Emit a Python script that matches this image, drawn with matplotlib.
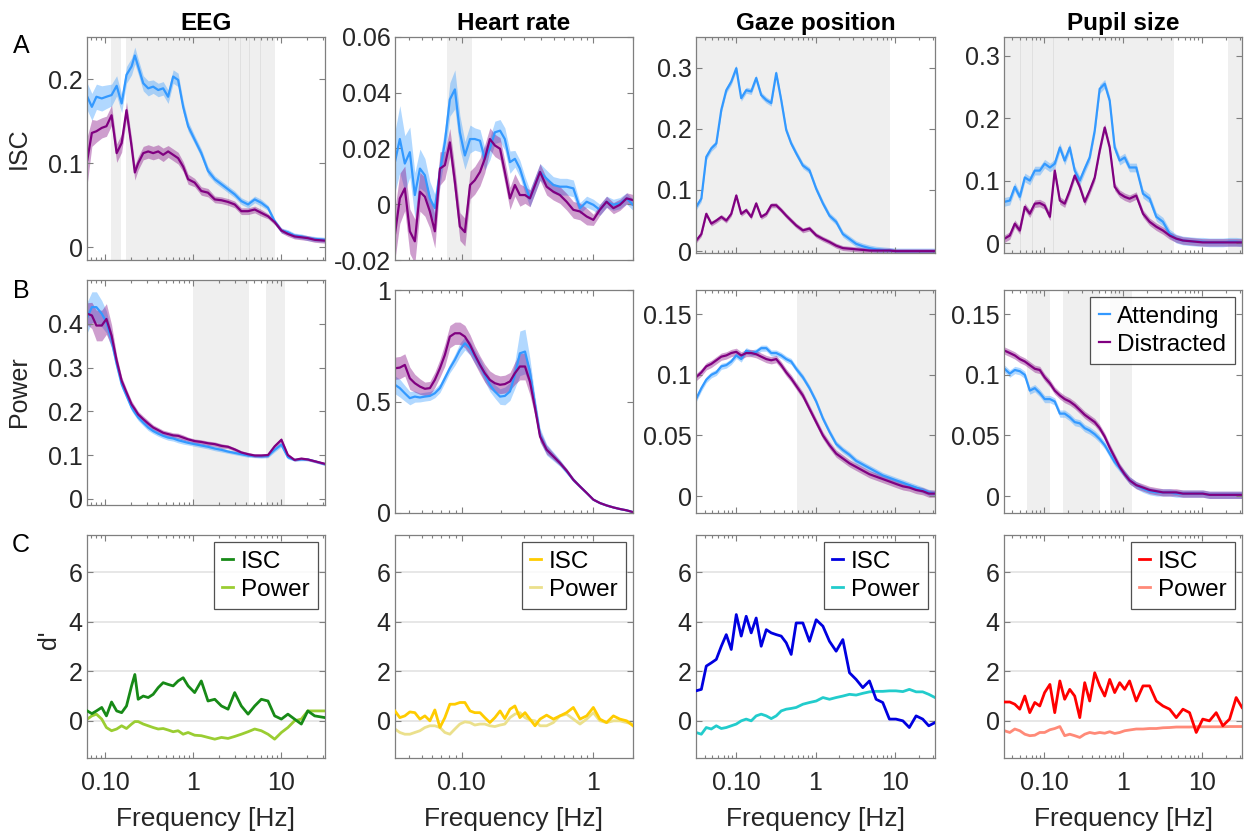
import numpy as np
import matplotlib
matplotlib.use('Agg')
import matplotlib.pyplot as plt
from matplotlib.ticker import LogLocator, NullFormatter

plt.rcParams['font.family'] = ['Liberation Sans', 'DejaVu Sans']

W, H = 1245, 838

## Data ##
att_color = '#3399ff'
dis_color = '#800080'

# EEG
eeg_freq = [0.063, 0.071, 0.080, 0.092, 0.104, 0.119, 0.136, 0.155, 0.176, 0.201, 0.219, 0.239, 0.273, 0.311,
            0.354, 0.404, 0.460, 0.524, 0.598, 0.681, 0.777, 0.885, 1.05, 1.25, 1.49, 1.78, 2.12, 2.52, 3.00,
            3.57, 4.26, 5.07, 6.03, 7.18, 8.55, 10.2, 12.1, 14.4, 17.2, 20.4, 24.4, 32.0]
eeg_isc_att = [0.179, 0.167, 0.179, 0.177, 0.179, 0.181, 0.192, 0.171, 0.205, 0.215, 0.228, 0.215, 0.195, 0.189,
               0.191, 0.187, 0.189, 0.179, 0.203, 0.199, 0.167, 0.144, 0.128, 0.112, 0.091, 0.081, 0.075, 0.069,
               0.063, 0.055, 0.051, 0.057, 0.053, 0.047, 0.031, 0.020, 0.018, 0.014, 0.013, 0.011, 0.010, 0.009]
eeg_isc_dis = [0.104, 0.136, 0.138, 0.142, 0.144, 0.157, 0.112, 0.124, 0.163, 0.120, 0.089, 0.100, 0.112, 0.114,
               0.112, 0.114, 0.110, 0.114, 0.110, 0.106, 0.096, 0.081, 0.077, 0.067, 0.065, 0.057, 0.056, 0.054,
               0.051, 0.043, 0.043, 0.045, 0.041, 0.037, 0.030, 0.020, 0.016, 0.013, 0.012, 0.011, 0.009, 0.008]
eeg_isc_att_err = [0.016, 0.016, 0.015, 0.015, 0.014, 0.013, 0.012, 0.011, 0.010, 0.010, 0.010, 0.009, 0.009, 0.009,
                   0.008, 0.008, 0.008, 0.008, 0.008, 0.008, 0.007, 0.006, 0.005, 0.005, 0.005, 0.004, 0.004, 0.004,
                   0.004, 0.004, 0.004, 0.004, 0.004, 0.003, 0.003, 0.003, 0.003, 0.003, 0.003, 0.003, 0.003, 0.003]
eeg_isc_dis_err = [0.028, 0.016, 0.013, 0.012, 0.012, 0.012, 0.011, 0.011, 0.010, 0.010, 0.009, 0.008, 0.008, 0.008,
                   0.008, 0.008, 0.008, 0.007, 0.007, 0.007, 0.006, 0.006, 0.005, 0.005, 0.005, 0.004, 0.004, 0.004,
                   0.004, 0.004, 0.004, 0.004, 0.004, 0.003, 0.003, 0.003, 0.003, 0.003, 0.003, 0.003, 0.003, 0.003]
eeg_pow_att = [0.415, 0.438, 0.438, 0.423, 0.404, 0.362, 0.308, 0.262, 0.236, 0.209, 0.197, 0.186, 0.174, 0.163,
               0.155, 0.149, 0.144, 0.140, 0.138, 0.134, 0.131, 0.128, 0.125, 0.122, 0.119, 0.115, 0.112, 0.108,
               0.105, 0.102, 0.099, 0.098, 0.097, 0.098, 0.112, 0.124, 0.095, 0.089, 0.090, 0.090, 0.086, 0.079]
eeg_pow_dis = [0.423, 0.419, 0.396, 0.396, 0.411, 0.373, 0.316, 0.270, 0.243, 0.216, 0.205, 0.193, 0.182, 0.172,
               0.163, 0.157, 0.151, 0.148, 0.145, 0.144, 0.140, 0.136, 0.132, 0.130, 0.127, 0.125, 0.121, 0.119,
               0.113, 0.106, 0.102, 0.099, 0.099, 0.100, 0.120, 0.135, 0.100, 0.089, 0.092, 0.090, 0.086, 0.080]
eeg_pow_att_err = [0.035, 0.035, 0.035, 0.030, 0.025, 0.018, 0.012, 0.009, 0.008, 0.008, 0.007, 0.007, 0.007, 0.007,
                   0.006, 0.006, 0.006, 0.006, 0.006, 0.006, 0.006, 0.005, 0.005, 0.005, 0.005, 0.005, 0.005, 0.004,
                   0.004, 0.004, 0.004, 0.004, 0.004, 0.004, 0.005, 0.005, 0.004, 0.003, 0.003, 0.003, 0.003, 0.003]
eeg_pow_dis_err = [0.025, 0.030, 0.035, 0.035, 0.035, 0.025, 0.012, 0.009, 0.008, 0.008, 0.007, 0.007, 0.007, 0.007,
                   0.006, 0.006, 0.006, 0.006, 0.006, 0.006, 0.006, 0.005, 0.005, 0.005, 0.005, 0.005, 0.005, 0.004,
                   0.004, 0.004, 0.004, 0.004, 0.004, 0.004, 0.005, 0.005, 0.004, 0.003, 0.003, 0.003, 0.003, 0.003]
eeg_d_isc = [0.40, 0.29, 0.40, 0.54, 0.20, 0.76, 0.40, 0.33, 0.60, 1.41, 1.87, 0.87, 1.00, 0.94, 1.07, 1.34, 1.54,
             1.47, 1.41, 1.61, 1.74, 1.41, 1.14, 1.61, 0.80, 0.87, 0.60, 0.47, 1.14, 0.60, 0.27, 0.60, 0.87, 0.80,
             0.20, 0.07, 0.27, 0.07, -0.13, 0.40, 0.20, 0.13]
eeg_d_pow = [0.07, 0.20, 0.27, 0.07, -0.27, -0.40, -0.33, -0.20, -0.31, -0.13, -0.03, -0.03, -0.13, -0.20, -0.27,
             -0.33, -0.31, -0.37, -0.44, -0.40, -0.54, -0.47, -0.58, -0.60, -0.67, -0.74, -0.67, -0.71, -0.63,
             -0.54, -0.44, -0.33, -0.40, -0.54, -0.74, -0.47, -0.27, 0.00, 0.07, 0.40, 0.40, 0.40]
eeg_isc_sig = [(0.117, 0.152), (0.173, 2.6), (2.55, 3.5), (3.45, 4.45), (4.38, 5.95), (5.85, 8.55)]
eeg_pow_sig = [(1.0, 4.33), (6.9, 11.1)]

# Heart rate
hr_freq = [0.0312, 0.0340, 0.0371, 0.0405, 0.0442, 0.0483, 0.0527, 0.0575, 0.0627, 0.0685, 0.0747, 0.0815, 0.0890,
           0.0971, 0.106, 0.116, 0.126, 0.138, 0.150, 0.164, 0.179, 0.196, 0.213, 0.233, 0.254, 0.277, 0.303, 0.330,
           0.361, 0.394, 0.442, 0.497, 0.558, 0.627, 0.705, 0.792, 0.890, 1.0, 1.12, 1.26, 1.42, 1.59, 1.79, 2.0]
hr_isc_att = [0.0151, 0.0234, 0.0146, 0.0187, 0.0033, 0.0128, 0.0104, 0.0021, -0.0014, 0.0116, 0.0222, 0.0376,
              0.0412, 0.0258, 0.0175, 0.0234, 0.0234, 0.0228, 0.0163, 0.0199, 0.0258, 0.0264, 0.0234, 0.0151,
              0.0163, 0.0128, 0.0069, 0.0021, 0.0069, 0.0116, 0.0092, 0.0069, 0.0063, 0.0063, 0.0057, -0.0014,
              0.0009, -0.0002, -0.0020, 0.0009, -0.0002, 0.0004, 0.0021, -0.0002]
hr_isc_dis = [-0.0109, 0.0021, 0.0057, -0.0097, -0.0133, 0.0045, 0.0027, -0.0026, -0.0097, 0.0128, 0.0140, 0.0222,
              0.0080, -0.0080, -0.0100, 0.0069, 0.0086, 0.0116, 0.0163, 0.0234, 0.0211, 0.0199, 0.0116, 0.0021,
              0.0069, 0.0033, 0.0033, 0.0021, 0.0069, 0.0116, 0.0063, 0.0045, 0.0033, 0.0009, -0.0020, -0.0026,
              -0.0044, -0.0056, -0.0020, 0.0009, -0.0014, -0.0002, 0.0021, 0.0015]
hr_isc_att_err = [0.011, 0.012, 0.010, 0.009, 0.008, 0.007, 0.006, 0.006, 0.005, 0.005, 0.005, 0.006, 0.007, 0.006,
                  0.005, 0.005, 0.004, 0.004, 0.004, 0.004, 0.004, 0.004, 0.004, 0.004, 0.003, 0.003, 0.003, 0.003,
                  0.003, 0.003, 0.003, 0.003, 0.003, 0.003, 0.003, 0.002, 0.002, 0.002, 0.002, 0.002, 0.002, 0.002,
                  0.002, 0.002]
hr_isc_dis_err = [0.009, 0.009, 0.008, 0.008, 0.008, 0.007, 0.007, 0.006, 0.006, 0.006, 0.005, 0.005, 0.005, 0.005,
                  0.005, 0.005, 0.005, 0.005, 0.005, 0.004, 0.004, 0.004, 0.004, 0.004, 0.004, 0.004, 0.003, 0.003,
                  0.003, 0.003, 0.003, 0.003, 0.003, 0.003, 0.003, 0.003, 0.003, 0.002, 0.002, 0.002, 0.002, 0.002,
                  0.002, 0.002]
hr_pow_att = [0.575, 0.560, 0.537, 0.515, 0.522, 0.518, 0.522, 0.525, 0.537, 0.560, 0.604, 0.649, 0.687, 0.731,
              0.761, 0.739, 0.701, 0.664, 0.619, 0.575, 0.545, 0.522, 0.525, 0.545, 0.619, 0.716, 0.724, 0.634,
              0.485, 0.351, 0.284, 0.254, 0.224, 0.187, 0.149, 0.119, 0.090, 0.060, 0.045, 0.034, 0.025, 0.018,
              0.012, 0.004]
hr_pow_dis = [0.649, 0.652, 0.664, 0.604, 0.582, 0.567, 0.557, 0.560, 0.597, 0.649, 0.709, 0.791, 0.806, 0.806,
              0.791, 0.754, 0.709, 0.664, 0.627, 0.597, 0.582, 0.575, 0.578, 0.590, 0.627, 0.657, 0.657, 0.590,
              0.470, 0.343, 0.284, 0.254, 0.224, 0.190, 0.149, 0.119, 0.090, 0.060, 0.045, 0.034, 0.025, 0.018,
              0.012, 0.004]
hr_pow_att_err = [0.04, 0.04, 0.035, 0.03, 0.025, 0.02, 0.02, 0.02, 0.02, 0.02, 0.02, 0.02, 0.025, 0.03, 0.03, 0.03,
                  0.03, 0.03, 0.03, 0.03, 0.03, 0.035, 0.04, 0.04, 0.06, 0.10, 0.10, 0.06, 0.035, 0.03, 0.025, 0.02,
                  0.015, 0.012, 0.01, 0.008, 0.006, 0.005, 0.005, 0.004, 0.003, 0.003, 0.003, 0.003]
hr_pow_dis_err = [0.05, 0.05, 0.05, 0.05, 0.04, 0.035, 0.03, 0.03, 0.035, 0.04, 0.05, 0.05, 0.05, 0.05, 0.05, 0.045,
                  0.04, 0.04, 0.04, 0.04, 0.04, 0.04, 0.04, 0.04, 0.05, 0.06, 0.06, 0.06, 0.035, 0.025, 0.02, 0.015,
                  0.012, 0.01, 0.008, 0.006, 0.005, 0.004, 0.004, 0.003, 0.003, 0.003, 0.003, 0.003]
hr_d_isc = [0.40, 0.13, 0.20, 0.36, 0.33, 0.07, 0.20, 0.00, 0.44, -0.27, 0.13, 0.67, 0.67, 0.74, 0.74, 0.40, 0.33,
            0.33, 0.13, -0.07, 0.13, 0.40, 0.09, 0.47, 0.60, 0.13, 0.33, 0.07, -0.20, 0.07, 0.23, 0.07, 0.20, 0.33,
            0.54, 0.07, 0.20, 0.54, 0.07, -0.07, 0.20, 0.07, 0.00, -0.20]
hr_d_pow = [-0.33, -0.47, -0.54, -0.54, -0.47, -0.40, -0.27, -0.20, -0.20, -0.27, -0.47, -0.54, -0.33, -0.13, -0.04,
            -0.07, -0.17, -0.13, -0.13, -0.20, -0.23, -0.17, -0.13, 0.13, 0.27, 0.33, 0.13, 0.03, 0.00, -0.20, -0.20,
            -0.07, 0.20, 0.27, 0.07, -0.13, 0.07, 0.33, 0.00, -0.07, 0.00, 0.00, -0.07, -0.13]
hr_isc_sig = [(0.078, 0.119)]
hr_pow_sig = []

# Gaze position
gaze_freq = [0.0313, 0.0365, 0.0421, 0.0487, 0.0563, 0.0651, 0.0752, 0.0869, 0.1005, 0.116, 0.134, 0.155, 0.179,
             0.207, 0.240, 0.277, 0.320, 0.370, 0.428, 0.494, 0.571, 0.693, 0.840, 1.02, 1.24, 1.50, 1.82, 2.21,
             2.68, 3.25, 3.94, 4.78, 5.80, 7.03, 8.53, 10.3, 12.6, 15.2, 18.5, 22.4, 26.7, 32.0]
gaze_isc_att = [0.072, 0.086, 0.154, 0.168, 0.176, 0.231, 0.263, 0.277, 0.299, 0.250, 0.263, 0.261, 0.283, 0.255,
                0.247, 0.242, 0.291, 0.247, 0.198, 0.176, 0.160, 0.140, 0.132, 0.102, 0.078, 0.058, 0.048, 0.028,
                0.020, 0.012, 0.008, 0.005, 0.003, 0.002, 0.001, 0.0, 0.0, 0.0, 0.0, 0.0, 0.0, 0.0]
gaze_isc_dis = [0.017, 0.028, 0.061, 0.045, 0.050, 0.056, 0.050, 0.061, 0.091, 0.061, 0.067, 0.056, 0.078, 0.056,
                0.061, 0.075, 0.075, 0.067, 0.058, 0.050, 0.042, 0.034, 0.037, 0.026, 0.020, 0.015, 0.009, 0.005,
                0.004, 0.003, 0.002, 0.001, 0.001, 0.001, 0.001, 0.0, 0.0, 0.0, 0.0, 0.0, 0.0, 0.0]
gaze_isc_att_err = 0.005
gaze_isc_dis_err = 0.004
gaze_pow_att = [0.080, 0.089, 0.096, 0.100, 0.102, 0.107, 0.108, 0.111, 0.116, 0.113, 0.120, 0.118, 0.119, 0.122,
                0.122, 0.118, 0.118, 0.116, 0.113, 0.111, 0.105, 0.098, 0.089, 0.078, 0.064, 0.053, 0.043, 0.038,
                0.034, 0.029, 0.026, 0.023, 0.020, 0.017, 0.015, 0.013, 0.011, 0.009, 0.007, 0.005, 0.003, 0.002]
gaze_pow_dis = [0.098, 0.102, 0.107, 0.109, 0.112, 0.115, 0.116, 0.118, 0.119, 0.116, 0.118, 0.118, 0.117, 0.115,
                0.113, 0.112, 0.113, 0.108, 0.102, 0.097, 0.091, 0.083, 0.072, 0.061, 0.050, 0.042, 0.035, 0.031,
                0.027, 0.024, 0.021, 0.018, 0.016, 0.014, 0.012, 0.010, 0.008, 0.007, 0.005, 0.004, 0.002, 0.002]
gaze_pow_att_err = 0.0025
gaze_pow_dis_err = 0.003
gaze_d_isc = [1.21, 1.27, 2.21, 2.34, 2.48, 3.01, 3.48, 2.88, 4.29, 3.42, 4.22, 3.55, 4.15, 3.01, 3.68, 3.55, 3.48,
              3.42, 3.15, 2.68, 3.95, 3.95, 3.21, 4.08, 3.82, 3.21, 2.81, 3.28, 1.94, 1.67, 1.34, 1.61, 0.87, 0.74,
              0.07, 0.07, 0.00, -0.27, 0.20, 0.07, -0.20, -0.07]
gaze_d_pow = [-0.47, -0.54, -0.27, -0.33, -0.20, -0.31, -0.27, -0.20, -0.13, 0.00, 0.07, 0.00, 0.20, 0.27, 0.20,
              0.09, 0.20, 0.40, 0.47, 0.50, 0.54, 0.67, 0.74, 0.80, 0.94, 0.87, 0.94, 1.00, 1.07, 1.04, 1.11, 1.17,
              1.19, 1.19, 1.21, 1.21, 1.18, 1.27, 1.17, 1.17, 1.07, 0.94]
gaze_isc_sig = [(0.03125, 8.8)]
gaze_pow_sig = [(0.577, 32.0)]

# Pupil size
pupil_freq = [0.0317, 0.0370, 0.0428, 0.0495, 0.0573, 0.0662, 0.0766, 0.0886, 0.102, 0.119, 0.137, 0.159, 0.183,
              0.212, 0.245, 0.284, 0.328, 0.379, 0.439, 0.507, 0.587, 0.679, 0.785, 0.908, 1.05, 1.21, 1.47, 1.79,
              2.17, 2.64, 3.20, 3.89, 4.72, 5.73, 6.95, 8.44, 10.2, 12.4, 15.1, 18.3, 22.3, 27.0, 32.0]
pupil_isc_att = [0.066, 0.068, 0.090, 0.074, 0.105, 0.100, 0.116, 0.116, 0.127, 0.121, 0.127, 0.153, 0.132, 0.153,
                 0.116, 0.100, 0.119, 0.137, 0.180, 0.247, 0.255, 0.228, 0.153, 0.132, 0.137, 0.121, 0.121, 0.079,
                 0.071, 0.042, 0.034, 0.015, 0.007, 0.004, 0.003, 0.002, 0.002, 0.001, 0.001, 0.001, 0.002, 0.002,
                 0.001]
pupil_isc_dis = [0.007, 0.012, 0.031, 0.020, 0.058, 0.047, 0.063, 0.064, 0.060, 0.042, 0.116, 0.068, 0.063, 0.084,
                 0.108, 0.090, 0.066, 0.084, 0.105, 0.148, 0.185, 0.153, 0.090, 0.079, 0.074, 0.071, 0.076, 0.047,
                 0.034, 0.026, 0.020, 0.012, 0.007, 0.004, 0.003, 0.002, 0.001, 0.001, 0.001, 0.001, 0.001, 0.001,
                 0.001]
pupil_isc_att_err = 0.007
pupil_isc_dis_err = 0.006
pupil_pow_att = [0.105, 0.101, 0.104, 0.103, 0.100, 0.087, 0.089, 0.085, 0.080, 0.080, 0.078, 0.068, 0.068, 0.065,
                 0.061, 0.060, 0.056, 0.054, 0.051, 0.047, 0.042, 0.035, 0.028, 0.023, 0.018, 0.013, 0.009, 0.006,
                 0.004, 0.003, 0.003, 0.003, 0.002, 0.002, 0.002, 0.002, 0.002, 0.001, 0.001, 0.001, 0.001, 0.001,
                 0.001]
pupil_pow_dis = [0.120, 0.118, 0.116, 0.113, 0.111, 0.108, 0.105, 0.104, 0.098, 0.093, 0.087, 0.083, 0.080, 0.078,
                 0.075, 0.071, 0.067, 0.064, 0.061, 0.056, 0.049, 0.040, 0.032, 0.024, 0.018, 0.013, 0.009, 0.007,
                 0.005, 0.004, 0.003, 0.003, 0.003, 0.002, 0.002, 0.002, 0.002, 0.001, 0.001, 0.001, 0.001, 0.001,
                 0.001]
pupil_pow_att_err = 0.003
pupil_pow_dis_err = 0.003
pupil_d_isc = [0.76, 0.76, 0.67, 0.47, 1.00, 0.33, 0.74, 0.60, 1.14, 1.47, 0.33, 1.61, 0.87, 1.27, 1.00, 0.13, 1.54,
               0.80, 1.94, 1.41, 1.00, 1.67, 1.14, 1.54, 1.27, 1.61, 0.80, 1.41, 1.41, 0.80, 0.60, 0.47, 0.13, 0.47,
               0.33, -0.47, 0.07, 0.00, 0.33, -0.20, 0.07, 0.94, 0.54]
pupil_d_pow = [-0.40, -0.47, -0.33, -0.40, -0.54, -0.60, -0.58, -0.47, -0.47, -0.36, -0.31, -0.23, -0.60, -0.54,
               -0.60, -0.67, -0.54, -0.47, -0.51, -0.47, -0.50, -0.44, -0.51, -0.47, -0.40, -0.37, -0.33, -0.33,
               -0.31, -0.31, -0.28, -0.27, -0.25, -0.25, -0.25, -0.24, -0.24, -0.24, -0.24, -0.24, -0.23, -0.23,
               -0.23]
pupil_isc_sig = [(0.03125, 0.051), (0.0495, 0.072), (0.070, 0.093), (0.091, 0.135), (0.132, 4.38), (21.2, 32.0)]
pupil_pow_sig = [(0.061, 0.119), (0.173, 0.506), (0.676, 1.31)]

titles = ['EEG', 'Heart rate', 'Gaze position', 'Pupil size']
xlims = [(1 / 16, 32), (1 / 32, 2), (1 / 32, 32), (1 / 32, 32)]
d_colors = [('#178a17', '#9acd32'), ('#ffcc00', '#ebe08c'), ('#0000e0', '#22cccc'), ('#ff0000', '#ff8a78')]

## Layout (pixels) ##
col_left = [87, 395, 696, 1004]
col_width = [238, 238, 239, 238]
row_a = [(37, 260), (37, 260), (37, 253), (37, 253)]
row_b = [(280, 505), (290, 513), (290, 513), (290, 513)]
row_c = [(535, 758)] * 4

edge = '#7f7f7f'
txt = '#262626'
fs = 18


def make_ax(col, tb):
    top, bot = tb
    return fig.add_axes([col_left[col] / W, 1 - bot / H, col_width[col] / W, (bot - top) / H])


def style(ax, xlim, ylim, yt, ytl, xlabels=False):
    ax.set_xscale('log')
    ax.set_xlim(xlim)
    ax.set_ylim(ylim)
    ax.set_yticks(yt)
    ax.set_yticklabels(ytl)
    xt = [t for t in [0.1, 1, 10] if xlim[0] <= t <= xlim[1]]
    ax.set_xticks(xt)
    ax.xaxis.set_minor_locator(LogLocator(base=10, subs=np.arange(2, 10)))
    ax.xaxis.set_minor_formatter(NullFormatter())
    if xlabels:
        ax.set_xticklabels([{0.1: '0.10', 1: '1', 10: '10'}[t] for t in xt])
    else:
        ax.set_xticklabels([])
    ax.tick_params(which='both', direction='in', top=True, right=True, color=edge,
                   labelcolor=txt, labelsize=fs, width=0.8)
    ax.tick_params(which='major', length=4)
    ax.tick_params(which='minor', length=2.2)
    ax.tick_params(axis='y', pad=3)
    ax.tick_params(axis='x', pad=9)
    for s in ax.spines.values():
        s.set_color(edge)
        s.set_linewidth(0.9)


def shade(ax, spans):
    for lo, hi in spans:
        ax.axvspan(lo, hi, color='black', alpha=0.063, lw=0, zorder=0)


def band(ax, f, m, e, color, label=None):
    f = np.array(f)
    m = np.array(m)
    e = np.broadcast_to(np.array(e, dtype=float), m.shape)
    ax.fill_between(f, m - e, m + e, color=color, alpha=0.38, lw=0, zorder=1)
    ax.plot(f, m, color=color, lw=1.6, zorder=2, label=label)


def add_legend(ax):
    leg = ax.legend(loc='upper right', fontsize=17.5, frameon=True, fancybox=False, edgecolor=txt,
                    handlelength=0.45, handletextpad=0.3, borderpad=0.35, labelspacing=0.25,
                    borderaxespad=0.3)
    leg.get_frame().set_linewidth(0.9)


fig = plt.figure(figsize=(W / 100, H / 100), dpi=100)

freqs = [eeg_freq, hr_freq, gaze_freq, pupil_freq]
isc = [(eeg_isc_att, eeg_isc_att_err, eeg_isc_dis, eeg_isc_dis_err),
       (hr_isc_att, hr_isc_att_err, hr_isc_dis, hr_isc_dis_err),
       (gaze_isc_att, gaze_isc_att_err, gaze_isc_dis, gaze_isc_dis_err),
       (pupil_isc_att, pupil_isc_att_err, pupil_isc_dis, pupil_isc_dis_err)]
pw = [(eeg_pow_att, eeg_pow_att_err, eeg_pow_dis, eeg_pow_dis_err),
      (hr_pow_att, hr_pow_att_err, hr_pow_dis, hr_pow_dis_err),
      (gaze_pow_att, gaze_pow_att_err, gaze_pow_dis, gaze_pow_dis_err),
      (pupil_pow_att, pupil_pow_att_err, pupil_pow_dis, pupil_pow_dis_err)]
dprime = [(eeg_d_isc, eeg_d_pow), (hr_d_isc, hr_d_pow), (gaze_d_isc, gaze_d_pow), (pupil_d_isc, pupil_d_pow)]
isc_sig = [eeg_isc_sig, hr_isc_sig, gaze_isc_sig, pupil_isc_sig]
pow_sig = [eeg_pow_sig, hr_pow_sig, gaze_pow_sig, pupil_pow_sig]

isc_ylim = [(-0.015, 0.25), (-0.02, 0.06), (-0.003, 0.35), (-0.016, 0.33)]
isc_yt = [([0, 0.1, 0.2], ['0', '0.1', '0.2']),
          ([-0.02, 0, 0.02, 0.04, 0.06], ['-0.02', '0', '0.02', '0.04', '0.06']),
          ([0, 0.1, 0.2, 0.3], ['0', '0.1', '0.2', '0.3']),
          ([0, 0.1, 0.2, 0.3], ['0', '0.1', '0.2', '0.3'])]
pow_ylim = [(-0.014, 0.5), (0, 1), (-0.014, 0.17), (-0.014, 0.17)]
pow_yt = [([0, 0.1, 0.2, 0.3, 0.4], ['0', '0.1', '0.2', '0.3', '0.4']),
          ([0, 0.5, 1], ['0', '0.5', '1']),
          ([0, 0.05, 0.1, 0.15], ['0', '0.05', '0.1', '0.15']),
          ([0, 0.05, 0.1, 0.15], ['0', '0.05', '0.1', '0.15'])]

for c in range(4):
    f = freqs[c]
    # row A: ISC
    ax = make_ax(c, row_a[c])
    shade(ax, isc_sig[c])
    a, ae, d, de = isc[c]
    band(ax, f, a, ae, att_color)
    band(ax, f, d, de, dis_color)
    style(ax, xlims[c], isc_ylim[c], *isc_yt[c])
    ax.set_title(titles[c], fontsize=17.5, fontweight='bold', color='black', pad=5)

    # row B: power
    ax = make_ax(c, row_b[c])
    shade(ax, pow_sig[c])
    a, ae, d, de = pw[c]
    band(ax, f, a, ae, att_color, 'Attending')
    band(ax, f, d, de, dis_color, 'Distracted')
    style(ax, xlims[c], pow_ylim[c], *pow_yt[c])
    if c == 3:
        add_legend(ax)

    # row C: d'
    ax = make_ax(c, row_c[c])
    ax.yaxis.grid(True, color='#e3e3e3', lw=1.2, zorder=0)
    di, dp = dprime[c]
    ax.plot(f, di, color=d_colors[c][0], lw=2.0, label='ISC', zorder=3)
    ax.plot(f, dp, color=d_colors[c][1], lw=2.0, label='Power', zorder=2)
    style(ax, xlims[c], (-1.5, 7.5), [0, 2, 4, 6], ['0', '2', '4', '6'], xlabels=True)
    add_legend(ax)
    cx = (col_left[c] + col_width[c] / 2) / W
    fig.text(cx, 1 - 819 / H, 'Frequency [Hz]', ha='center', va='center', fontsize=19, color=txt)

# row labels and panel letters
fig.text(19 / W, 1 - 148 / H, 'ISC', rotation=90, ha='center', va='center', fontsize=fs, color=txt)
fig.text(19 / W, 1 - 392 / H, 'Power', rotation=90, ha='center', va='center', fontsize=fs, color=txt)
fig.text(49 / W, 1 - 640 / H, "d'", rotation=90, ha='center', va='center', fontsize=fs, color=txt)
fig.text(21 / W, 1 - 46 / H, 'A', ha='center', va='center', fontsize=fs, color='black')
fig.text(21 / W, 1 - 291 / H, 'B', ha='center', va='center', fontsize=fs, color='black')
fig.text(21 / W, 1 - 545 / H, 'C', ha='center', va='center', fontsize=fs, color='black')

plt.savefig('out.png', dpi=100)
